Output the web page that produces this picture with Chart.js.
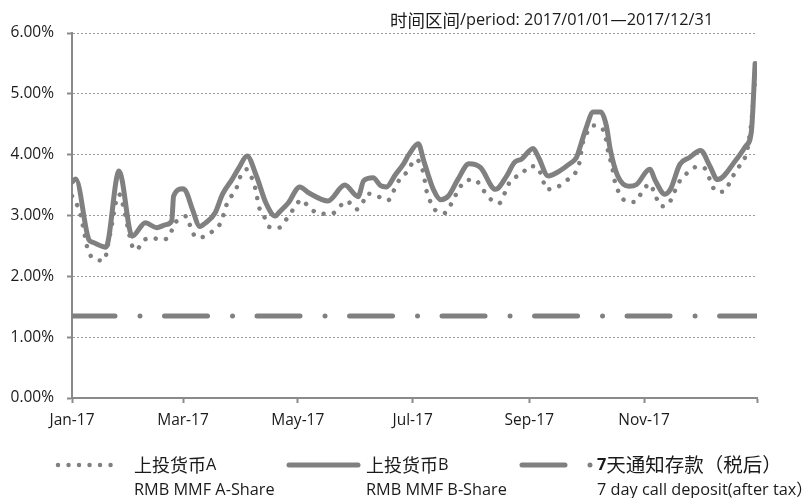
<!DOCTYPE html>
<html>
<head>
<meta charset="utf-8">
<script src="https://cdn.jsdelivr.net/npm/chart.js@4/dist/chart.umd.min.js"></script>
<style>
  html, body { margin: 0; padding: 0; background: #ffffff; }
  #wrap { width: 807px; height: 498px; position: relative; }
</style>
</head>
<body>
<div id="wrap"><canvas id="c" width="807" height="498"></canvas></div>
<script>
// ---------------- DATA ----------------
const periodTitle = '/period: 2017/01/01—2017/12/31';
const periodTitleCN = '时间区间';

const tickDates  = ['01-01', '03-01', '05-01', '07-01', '09-01', '11-01', '12-31'];
const tickLabels = ['Jan-17', 'Mar-17', 'May-17', 'Jul-17', 'Sep-17', 'Nov-17', ''];

const seriesNames = {
  a: ['上投货币', 'A', 'RMB MMF A-Share'],
  b: ['上投货币', 'B', 'RMB MMF B-Share'],
  d: ['7', '天通知存款（税后）', '7 day call deposit(after tax）']
};

// 上投货币B (solid)
const datesB = ['01-01','01-03','01-10','01-12','01-19','01-26','02-02','02-09','02-15','02-20',
  '02-23','02-24','03-01','03-02','03-03','03-06','03-10','03-13','03-18','03-22',
  '03-27','03-31','04-04','04-09','04-14','04-19','04-21','04-26','05-02','05-07',
  '05-17','05-26','06-02','06-05','06-10','06-14','06-17','06-22','06-26','06-29',
  '07-04','07-07','07-12','07-16','07-20','07-25','07-31','08-06','08-14','08-20',
  '08-24','08-28','09-03','09-06','09-11','09-17','09-22','09-26','09-27','10-01',
  '10-05','10-09','10-12','10-14','10-18','10-24','10-28','11-04','11-07','11-12',
  '11-15','11-20','11-25','12-01','12-06','12-10','12-20','12-25','12-28','12-30'];
const valuesB = [3.55,3.60,2.60,2.56,2.48,3.73,2.66,2.88,2.80,2.85,
  2.91,3.32,3.44,3.42,3.37,3.10,2.82,2.88,3.04,3.35,
  3.59,3.80,3.98,3.65,3.21,2.99,3.05,3.21,3.47,3.37,
  3.24,3.50,3.31,3.57,3.62,3.49,3.47,3.68,3.84,4.00,
  4.18,3.89,3.43,3.26,3.32,3.59,3.85,3.79,3.43,3.65,
  3.87,3.93,4.10,3.95,3.65,3.73,3.84,3.95,4.03,4.42,
  4.70,4.70,4.47,4.09,3.65,3.48,3.51,3.76,3.57,3.35,
  3.43,3.84,3.95,4.07,3.81,3.59,3.92,4.14,4.38,5.50];

// 上投货币A (dotted)
const datesA = ['01-01','01-05','01-07','01-09','01-12','01-18','01-21','01-26','01-29','01-31',
  '02-02','02-04','02-08','02-13','02-17','02-22','02-24','02-27','03-03','03-05',
  '03-08','03-13','03-17','03-21','03-25','03-29','03-31','04-04','04-07','04-09',
  '04-10','04-13','04-16','04-21','04-25','04-29','05-03','05-07','05-13','05-19',
  '05-24','05-27','06-01','06-04','06-07','06-12','06-18','06-21','06-24','06-29',
  '07-02','07-05','07-07','07-08','07-10','07-13','07-18','07-22','07-25','07-29',
  '08-03','08-07','08-11','08-16','08-19','08-22','08-28','09-01','09-05','09-08',
  '09-10','09-16','09-21','09-26','09-28','09-29','10-01','10-05','10-10','10-12',
  '10-13','10-15','10-16','10-18','10-22','10-27','10-31','11-04','11-07','11-10',
  '11-14','11-17','11-20','11-24','11-29','12-03','12-06','12-09','12-13','12-17',
  '12-20','12-24','12-26','12-27','12-28','12-30'];
const valuesA = [3.32,3.07,2.80,2.49,2.30,2.26,2.66,3.35,3.05,2.75,
  2.50,2.43,2.59,2.63,2.60,2.67,2.85,2.93,2.99,2.81,
  2.64,2.66,2.75,2.88,3.25,3.41,3.61,3.76,3.58,3.37,
  3.18,2.99,2.81,2.80,2.94,3.12,3.26,3.13,3.03,3.03,
  3.17,3.24,3.10,3.18,3.36,3.32,3.25,3.41,3.59,3.75,
  3.92,3.86,3.66,3.46,3.26,3.09,3.04,3.22,3.40,3.57,
  3.59,3.44,3.28,3.20,3.37,3.57,3.68,3.81,3.80,3.61,
  3.43,3.47,3.58,3.73,3.92,4.14,4.32,4.48,4.42,4.22,
  4.03,3.81,3.62,3.42,3.24,3.22,3.39,3.52,3.33,3.15,
  3.19,3.38,3.57,3.70,3.80,3.78,3.59,3.40,3.39,3.57,
  3.75,3.91,4.10,4.30,4.53,5.25];

// 7天通知存款（税后） (dash-dot)
const datesD  = ['01-01', '12-31'];
const valuesD = [1.35, 1.35];

const yTicks = [0, 1, 2, 3, 4, 5, 6];

// ---------------- HELPERS ----------------
function dayOfYear(md) {
  const [m, d] = md.split('-').map(Number);
  return Math.round((Date.UTC(2017, m - 1, d) - Date.UTC(2017, 0, 1)) / 86400000);
}
function toPoints(dates, values) {
  return dates.map((d, i) => ({ x: dayOfYear(d), y: values[i] }));
}

const GREY = '#808080';
const AXIS = '#8a8a8a';
const TXT = '#1a1a1a';
const LAT = '"Open Sans", "Noto Sans CJK SC", sans-serif';
const CJK = '"Noto Sans CJK SC", sans-serif';
const LSIZE = '16.3px ';
const CSIZE = '18px ';

const dashA = [0.01, 10.5];
const dashD = [43, 25, 0.01, 24.5];

function drawRuns(ctx, x, y, runs) {
  ctx.save();
  ctx.textBaseline = 'middle';
  ctx.textAlign = 'left';
  ctx.fillStyle = TXT;
  for (const [t, f] of runs) {
    ctx.font = f;
    ctx.fillText(t, x, y);
    x += ctx.measureText(t).width;
  }
  ctx.restore();
}

function sampleLine(ctx, x1, x2, y, width, dash) {
  ctx.save();
  ctx.strokeStyle = GREY;
  ctx.lineWidth = width;
  ctx.lineCap = 'round';
  ctx.setLineDash(dash);
  ctx.beginPath();
  ctx.moveTo(x1, y);
  ctx.lineTo(x2, y);
  ctx.stroke();
  ctx.restore();
}

const decorPlugin = {
  id: 'decor',
  afterDraw(chart) {
    const ctx = chart.ctx;
    // period title
    drawRuns(ctx, 390, 20, [[periodTitleCN, '17.5px ' + CJK], [periodTitle, LSIZE + LAT]]);
    // legend
    const y1 = 465, y2 = 490;
    sampleLine(ctx, 58, 120, y1, 4.5, dashA);
    drawRuns(ctx, 134, y1, [[seriesNames.a[0], CSIZE + CJK], [seriesNames.a[1], LSIZE + LAT]]);
    drawRuns(ctx, 134, y2, [[seriesNames.a[2], LSIZE + LAT]]);

    sampleLine(ctx, 289, 358, y1, 5, []);
    drawRuns(ctx, 366, y1, [[seriesNames.b[0], CSIZE + CJK], [seriesNames.b[1], LSIZE + LAT]]);
    drawRuns(ctx, 366, y2, [[seriesNames.b[2], LSIZE + LAT]]);

    sampleLine(ctx, 522, 591, y1, 5, dashD);
    drawRuns(ctx, 597, y1, [[seriesNames.d[0], 'bold ' + LSIZE + LAT], [seriesNames.d[1], '19.5px ' + CJK]]);
    drawRuns(ctx, 597, y2, [[seriesNames.d[2], LSIZE + LAT]]);
  }
};

new Chart(document.getElementById('c'), {
  type: 'line',
  data: {
    datasets: [
      {
        label: '上投货币B',
        data: toPoints(datesB, valuesB),
        borderColor: GREY,
        borderWidth: 5,
        pointRadius: 0,
        cubicInterpolationMode: 'monotone',
        borderCapStyle: 'round',
        borderJoinStyle: 'round',
        order: 0
      },
      {
        label: '上投货币A',
        data: toPoints(datesA, valuesA),
        borderColor: GREY,
        borderWidth: 4.5,
        borderDash: dashA,
        borderCapStyle: 'round',
        borderJoinStyle: 'round',
        pointRadius: 0,
        cubicInterpolationMode: 'monotone',
        order: 1
      },
      {
        label: '7天通知存款（税后）',
        data: toPoints(datesD, valuesD),
        borderColor: GREY,
        borderWidth: 5,
        borderDash: dashD,
        borderCapStyle: 'round',
        pointRadius: 0,
        tension: 0,
        order: 2
      }
    ]
  },
  options: {
    responsive: false,
    animation: false,
    events: [],
    layout: { padding: { top: 33, right: 50, left: 0, bottom: 0 } },
    plugins: {
      legend: { display: false },
      tooltip: { enabled: false },
      title: { display: false }
    },
    scales: {
      x: {
        type: 'linear',
        min: 0,
        max: 364,
        afterBuildTicks(scale) {
          scale.ticks = tickDates.map(d => ({ value: dayOfYear(d) }));
        },
        afterFit(scale) { scale.height = 100; },
        ticks: {
          autoSkip: false,
          maxRotation: 0,
          padding: 8,
          color: TXT,
          font: { family: LAT, size: 15.5 },
          callback: (v, i) => tickLabels[i]
        },
        grid: {
          drawOnChartArea: false,
          drawTicks: true,
          tickLength: 5,
          tickColor: AXIS,
          tickWidth: 2,
          color: AXIS
        },
        border: { display: true, color: AXIS, width: 2 }
      },
      y: {
        type: 'linear',
        min: 0,
        max: 6,
        afterBuildTicks(scale) {
          scale.ticks = yTicks.map(v => ({ value: v }));
        },
        afterFit(scale) { scale.width = 72; },
        ticks: {
          padding: 13,
          color: TXT,
          font: { family: LAT, size: 15.5 },
          callback: v => v.toFixed(2) + '%'
        },
        grid: {
          drawOnChartArea: true,
          drawTicks: true,
          tickLength: 5,
          color: '#9a9a9a',
          lineWidth: 1,
          tickColor: AXIS,
          tickWidth: 2,
          tickBorderDash: []
        },
        border: { display: true, color: AXIS, width: 2, dash: [2, 2] }
      }
    }
  },
  plugins: [decorPlugin]
});
</script>
</body>
</html>
